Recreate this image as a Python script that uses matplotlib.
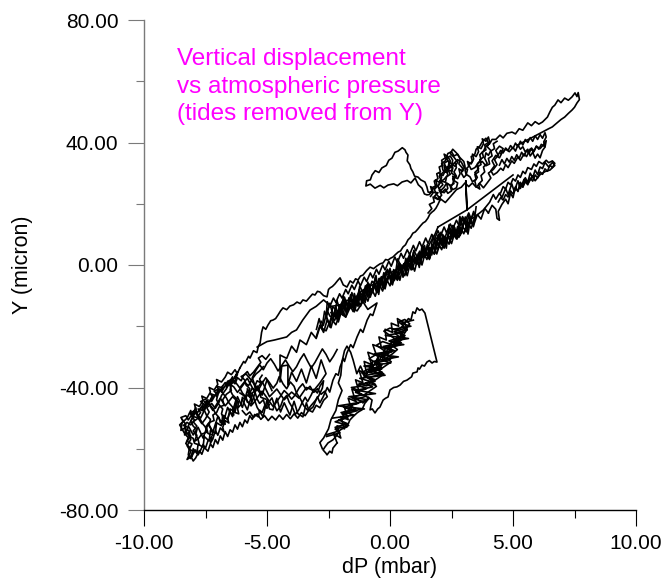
import matplotlib
matplotlib.use("Agg")
import matplotlib.pyplot as plt
from matplotlib.ticker import MultipleLocator, FormatStrFormatter

plt.rcParams['font.family'] = ['Liberation Sans', 'DejaVu Sans']

# dP (mbar), Y (micron) pairs, one list per stretch of the record
long_strand = [(-6.10, -33.6), (-5.95, -31.5), (-5.89, -32.0), (-5.75, -29.8), (-5.69, -30.4), (-5.55, -28.0),
               (-5.41, -28.6), (-5.35, -26.5), (-5.28, -25.5), (-5.22, -22.0), (-5.16, -20.2), (-5.05, -21.0),
               (-4.96, -19.6), (-4.85, -18.2), (-4.76, -18.0), (-4.65, -17.5), (-4.55, -16.3), (-4.45, -15.0),
               (-4.35, -14.0), (-4.20, -14.6), (-4.07, -13.4), (-3.92, -13.0), (-3.78, -12.1), (-3.65, -12.6),
               (-3.54, -11.4), (-3.40, -11.8), (-3.25, -10.4), (-3.15, -9.5), (-3.05, -9.8), (-2.95, -8.6),
               (-2.85, -8.8), (-2.70, -10.0), (-2.56, -10.4), (-2.50, -8.0), (-2.44, -7.5), (-2.34, -7.0),
               (-2.24, -6.2), (-2.12, -5.0), (-2.03, -4.2), (-1.90, -6.5), (-1.75, -7.2), (-1.62, -5.2),
               (-1.50, -5.9), (-1.40, -4.5), (-1.30, -4.9), (-1.20, -3.6), (-1.10, -3.3), (-0.95, -1.8),
               (-0.81, -0.7), (-0.67, -1.2), (-0.53, -0.3), (-0.40, 0.4), (-0.28, 0.7), (-0.18, 1.8),
               (-0.08, 1.6), (0.02, 2.2), (0.12, 2.6), (0.22, 3.4), (0.33, 4.2), (0.43, 4.6), (0.53, 5.9),
               (0.63, 6.6), (0.73, 8.2), (0.83, 9.0), (0.93, 10.4), (1.03, 10.8), (1.14, 11.8), (1.24, 12.8),
               (1.34, 13.7), (1.44, 14.2), (1.54, 15.3), (1.62, 16.6), (1.71, 17.3), (1.79, 17.8), (1.87, 18.6),
               (1.95, 19.8), (2.03, 21.2)]

top_strand = [(2.03, 21.2), (1.80, 22.4), (1.95, 23.6), (1.55, 23.8), (1.50, 25.5), (1.42, 27.1), (1.25, 27.8),
              (1.14, 28.7), (1.00, 29.0), (0.93, 30.4), (0.85, 31.5), (0.81, 32.7), (0.70, 34.0), (0.73, 35.9),
              (0.65, 36.8), (0.61, 37.6), (0.50, 38.3), (0.33, 37.2), (0.20, 36.8), (0.08, 34.9), (-0.05, 34.2),
              (-0.15, 32.5), (-0.33, 31.7), (-0.45, 30.2), (-0.60, 30.8), (-0.73, 29.4), (-0.80, 27.8),
              (-0.95, 27.5), (-0.98, 25.8), (-0.80, 26.4), (-0.61, 25.1), (-0.40, 26.0), (-0.25, 25.2),
              (-0.08, 26.1), (0.15, 26.5), (0.30, 25.9), (0.49, 27.1), (0.70, 27.6), (0.85, 26.8), (1.02, 28.4),
              (1.15, 26.2), (1.30, 25.1), (1.40, 23.2), (1.50, 22.9),
              (1.60, 23.0), (1.70, 24.2), (1.65, 25.6), (1.80, 24.8), (1.90, 26.4), (1.85, 27.8), (2.00, 27.0),
              (2.10, 28.6), (2.00, 30.0), (2.15, 29.2), (2.25, 30.8), (2.20, 32.4), (2.35, 31.6), (2.40, 33.4),
              (2.30, 34.8), (2.45, 35.6), (2.55, 34.2), (2.50, 32.6), (2.65, 33.4), (2.70, 31.8), (2.60, 30.4),
              (2.70, 29.0), (2.55, 28.2), (2.60, 26.6), (2.45, 25.8), (2.50, 24.2), (2.35, 23.4), (2.25, 24.8),
              (2.10, 23.6), (2.00, 25.0), (2.15, 26.2), (2.05, 27.6), (2.25, 27.0), (2.30, 28.8), (2.45, 29.6),
              (2.35, 31.2), (2.50, 30.6), (2.55, 32.0), (2.40, 32.6), (2.30, 30.2), (2.15, 31.0), (2.10, 33.2),
              (2.25, 34.0), (2.35, 36.4), (2.50, 37.0), (2.60, 35.6), (2.75, 36.2), (2.85, 34.6), (2.80, 33.0),
              (2.95, 31.6), (2.90, 30.0), (3.00, 28.6),
              (3.10, 29.4), (3.05, 31.0), (3.20, 32.2), (3.15, 33.8), (3.30, 33.0), (3.40, 34.6), (3.35, 36.2),
              (3.50, 35.4), (3.60, 37.0), (3.55, 38.6), (3.70, 38.0), (3.80, 39.6), (3.75, 41.2), (3.90, 40.4),
              (4.00, 41.8), (4.05, 40.2), (3.95, 38.6), (4.10, 37.4), (4.00, 35.8), (3.90, 36.6), (3.85, 34.8),
              (3.95, 33.2), (3.80, 32.0), (3.85, 30.4), (3.70, 29.2), (3.75, 27.6), (3.60, 26.4), (3.65, 24.8),
              (3.50, 25.6), (3.45, 27.4), (3.55, 28.6), (3.45, 30.2), (3.60, 31.4), (3.55, 33.0), (3.70, 34.4),
              (3.65, 36.0), (3.80, 37.2), (3.90, 38.8), (4.05, 39.6), (4.15, 41.0),
              (4.30, 41.0), (4.47, 42.4), (4.60, 41.5), (4.75, 43.0), (4.96, 43.4), (5.10, 42.8), (5.25, 44.5),
              (5.40, 44.0), (5.60, 46.4), (5.75, 45.5), (5.90, 46.8), (6.05, 46.0), (6.20, 46.7), (6.30, 47.5),
              (6.40, 48.3), (6.50, 50.0), (6.60, 51.5), (6.70, 52.2), (6.83, 53.9), (6.95, 53.0), (7.10, 54.5),
              (7.25, 53.8), (7.40, 54.9), (7.52, 56.2), (7.60, 55.0), (7.65, 56.3), (7.70, 54.0), (7.60, 52.9),
              (7.50, 51.5), (7.40, 50.6), (7.25, 49.5), (7.10, 48.3), (6.95, 47.5), (6.83, 46.7), (6.70, 45.8),
              (6.60, 45.1), (6.45, 44.5),
              (5.20, 39.2), (5.30, 37.8), (5.40, 38.6), (5.50, 36.9), (5.60, 37.8), (5.70, 35.6), (5.80, 36.8),
              (5.90, 34.9), (6.00, 36.2), (6.10, 35.0), (6.20, 37.4), (6.30, 38.5), (6.35, 40.6), (6.25, 39.4),
              (6.10, 38.0), (5.95, 38.8), (5.85, 37.0), (5.70, 37.9), (5.55, 35.4), (5.45, 36.3), (5.30, 34.2),
              (5.20, 35.3), (5.05, 33.2), (4.95, 34.0), (4.80, 31.8), (4.70, 32.8), (4.60, 30.9), (4.50, 31.6),
              (4.35, 30.2), (4.20, 29.4), (4.10, 30.8), (4.25, 32.4), (4.15, 34.0), (4.30, 35.8), (4.45, 35.0),
              (4.55, 36.6), (4.70, 37.8), (4.85, 37.0), (5.00, 38.4), (5.10, 37.2), (5.20, 39.2)]

upper_walk = [(1.65, 22.4), (1.75, 23.6), (1.70, 25.2), (1.85, 25.8), (1.80, 27.4), (1.95, 28.2), (1.90, 29.8),
              (2.05, 30.4), (2.00, 32.0), (2.15, 32.6), (2.10, 34.2), (2.25, 35.0), (2.20, 36.2), (2.35, 35.4),
              (2.45, 34.0), (2.40, 32.4), (2.55, 31.6), (2.50, 30.0), (2.65, 29.2), (2.60, 27.6), (2.75, 26.8),
              (2.70, 25.2), (2.55, 24.6), (2.45, 26.0), (2.30, 26.8), (2.20, 25.4), (2.05, 24.2), (1.95, 25.6),
              (2.05, 27.2), (2.20, 28.0), (2.35, 29.4), (2.30, 31.0), (2.45, 31.8), (2.60, 33.2), (2.75, 34.4),
              (2.90, 33.6), (3.00, 32.0), (3.15, 31.2), (3.10, 29.6), (3.25, 28.8), (3.35, 27.2), (3.50, 28.0),
              (3.45, 29.6), (3.60, 30.4), (3.55, 32.0), (3.70, 32.8), (3.65, 34.4), (3.80, 35.2), (3.75, 36.8),
              (3.90, 37.6), (3.85, 39.2), (4.00, 40.0), (3.90, 41.4), (3.75, 40.2), (3.65, 38.8), (3.50, 37.8),
              (3.45, 36.2), (3.30, 35.4), (3.35, 33.8), (3.20, 32.8), (3.30, 31.2), (3.45, 31.8), (3.60, 33.4),
              (3.75, 33.8), (3.90, 32.4), (4.05, 33.0), (4.00, 34.8), (4.15, 35.6), (4.10, 37.2), (4.25, 38.0),
              (4.20, 39.6), (4.35, 40.4)]

upper_walk2 = [(1.55, 17.0), (1.70, 18.4), (1.60, 19.8), (1.80, 20.6), (1.75, 22.2), (1.95, 21.4), (2.10, 22.8),
               (2.00, 24.4), (2.20, 23.6), (2.35, 25.0), (2.30, 26.6), (2.50, 25.8), (2.60, 27.4), (2.55, 29.0),
               (2.75, 28.2), (2.85, 29.8), (2.80, 31.4), (2.95, 30.6), (3.05, 32.2), (3.00, 33.8), (2.85, 35.0),
               (2.70, 36.6), (2.55, 37.8), (2.45, 36.4), (2.60, 35.2), (2.75, 33.6), (2.65, 32.2), (2.50, 33.0),
               (2.35, 34.0), (2.20, 33.2), (2.30, 31.6), (2.15, 30.2), (2.00, 29.0), (2.10, 27.4), (1.95, 26.0),
               (1.80, 24.6), (1.90, 23.0), (2.05, 21.6), (2.25, 20.4), (2.40, 21.8), (2.55, 23.2), (2.70, 24.6),
               (2.90, 25.4), (3.05, 26.8), (3.20, 25.6), (3.35, 26.8), (3.50, 25.4), (3.65, 26.6), (3.80, 25.2),
               (3.95, 26.8), (4.10, 28.4), (4.00, 30.0), (4.20, 31.2), (4.35, 32.8), (4.25, 34.4), (4.40, 35.8),
               (4.30, 37.4), (4.45, 38.8), (4.60, 38.0), (4.50, 36.4)]

upper_right_walk = [(4.40, 36.0), (4.50, 37.4), (4.60, 36.6), (4.70, 38.2), (4.80, 37.4), (4.90, 39.0), (5.00, 38.0),
                    (5.10, 39.8), (5.20, 38.6), (5.30, 40.4), (5.40, 39.2), (5.50, 41.0), (5.60, 40.0), (5.70, 41.6),
                    (5.80, 40.4), (5.90, 42.2), (6.00, 41.0), (6.10, 42.6), (6.20, 41.4), (6.30, 43.2), (6.35, 41.8),
                    (6.25, 40.2), (6.30, 38.6), (6.15, 39.4), (6.05, 37.8), (5.95, 38.8), (5.85, 37.2), (5.75, 38.2),
                    (5.65, 36.4), (5.55, 37.4), (5.45, 35.6), (5.35, 36.8), (5.25, 34.8), (5.15, 36.0), (5.05, 34.2),
                    (4.95, 35.4), (4.85, 33.6), (4.75, 34.8), (4.65, 33.0), (4.55, 34.4), (4.45, 32.6)]

jump_strand = [(1.95, 12.4), (3.13, 18.0), (3.08, 27.5), (3.13, 18.0), (5.00, 29.4)]

mid_band = [(-3.00, -23.5), (-2.85, -19.7), (-2.70, -22.0), (-2.55, -17.8), (-2.40, -20.5), (-2.25, -16.0),
            (-2.10, -18.6), (-1.95, -14.5), (-1.80, -17.0), (-1.65, -12.8), (-1.50, -15.2), (-1.35, -11.0),
            (-1.20, -13.5), (-1.05, -9.5), (-0.90, -11.8), (-0.75, -7.8), (-0.60, -10.2), (-0.45, -6.2),
            (-0.30, -8.5), (-0.15, -4.5), (0.00, -6.8), (0.15, -2.8), (0.30, -5.0), (0.45, -1.2), (0.60, -3.5),
            (0.75, 0.5), (0.90, -1.5), (1.05, 2.2), (1.20, 0.0), (1.35, 4.0), (1.50, 1.8), (1.65, 5.6),
            (1.80, 3.5), (1.95, 7.3), (2.10, 5.0), (2.25, 9.0), (2.40, 6.8), (2.55, 10.6), (2.70, 8.5),
            (2.85, 12.3), (3.00, 10.2), (3.15, 14.0), (3.30, 12.0), (3.45, 15.8),
            (3.40, 17.5), (3.30, 15.0), (3.20, 17.0), (3.05, 14.2), (2.95, 15.8), (2.80, 13.0), (2.70, 14.6),
            (2.55, 11.8), (2.45, 13.4), (2.30, 10.5), (2.20, 12.4), (2.05, 9.4), (1.95, 11.2), (1.80, 8.3),
            (1.70, 10.0), (1.55, 7.0), (1.45, 8.8), (1.30, 5.8), (1.20, 7.6), (1.05, 4.6), (0.95, 6.4),
            (0.80, 3.4), (0.70, 5.0), (0.55, 2.2), (0.45, 3.8), (0.30, 0.8), (0.20, 2.6), (0.05, -0.4),
            (-0.05, 1.2), (-0.20, -1.6), (-0.30, 0.0), (-0.45, -3.0), (-0.55, -1.4), (-0.70, -4.2),
            (-0.80, -2.6), (-0.95, -5.4), (-1.05, -4.0), (-1.20, -6.8), (-1.30, -5.2), (-1.45, -8.0),
            (-1.55, -6.6), (-1.70, -9.4), (-1.80, -8.0), (-1.95, -10.8), (-2.05, -9.4), (-2.20, -12.2),
            (-2.30, -10.8), (-2.45, -13.6), (-2.55, -12.0),
            (-2.60, -17.5), (-2.45, -12.5), (-2.30, -16.8), (-2.15, -11.8), (-2.00, -15.5), (-1.85, -10.5),
            (-1.70, -14.5), (-1.55, -9.0), (-1.40, -13.0), (-1.25, -8.0), (-1.10, -12.0), (-0.95, -6.5),
            (-0.80, -10.5), (-0.65, -5.5), (-0.50, -9.0), (-0.35, -4.0), (-0.20, -7.8), (-0.05, -2.8),
            (0.10, -6.5), (0.25, -1.5), (0.40, -5.0), (0.55, 0.0), (0.70, -3.5), (0.85, 1.5), (1.00, -2.0),
            (1.15, 3.0), (1.30, 0.0), (1.45, 4.5), (1.60, 1.8), (1.75, 6.0), (1.90, 3.6), (2.05, 7.5),
            (2.20, 5.5), (2.35, 9.5), (2.50, 7.0), (2.65, 11.0), (2.80, 9.0), (2.95, 12.5), (3.10, 10.8),
            (3.25, 14.5), (3.40, 13.0), (3.55, 16.5), (3.70, 15.0), (3.85, 18.5), (4.00, 17.0)]

mid_walk = [(-2.40, -15.5), (-2.30, -17.0), (-2.20, -13.6), (-2.10, -16.6), (-2.00, -14.1), (-1.90, -16.4),
            (-1.80, -11.8), (-1.70, -13.1), (-1.60, -9.7), (-1.50, -13.6), (-1.40, -10.4), (-1.30, -13.5),
            (-1.20, -9.1), (-1.10, -10.2), (-1.00, -6.8), (-0.90, -10.5), (-0.80, -7.7), (-0.70, -8.6),
            (-0.60, -4.0), (-0.50, -6.7), (-0.40, -4.3), (-0.30, -7.4), (-0.20, -4.0), (-0.10, -5.1),
            (0.00, -1.1), (0.10, -4.6), (0.20, -2.2), (0.30, -4.5), (0.40, 0.5), (0.50, -1.4), (0.60, 0.8),
            (0.70, -1.7), (0.80, 3.5), (0.90, 0.1), (1.00, 2.6), (1.10, 0.2), (1.20, 4.5), (1.30, 2.9),
            (1.40, 6.4), (1.50, 3.0), (1.60, 5.7), (1.70, 3.3), (1.80, 8.0), (1.90, 6.8), (2.00, 9.9),
            (2.10, 6.5), (2.20, 9.4), (2.30, 7.0), (2.40, 10.9), (2.50, 9.5), (2.60, 12.8), (2.70, 10.0),
            (2.80, 12.5), (2.90, 10.3), (3.00, 14.6), (3.10, 13.0), (3.20, 16.1), (3.30, 13.5),
            (3.25, 15.2), (3.15, 11.8), (3.05, 15.1), (2.95, 12.3), (2.85, 9.6), (2.75, 12.6), (2.65, 9.5),
            (2.55, 12.9), (2.45, 9.0), (2.35, 9.6), (2.25, 6.5), (2.15, 9.9), (2.05, 7.0), (1.95, 9.8),
            (1.85, 4.9), (1.75, 6.7), (1.65, 3.4), (1.55, 6.2), (1.45, 4.3), (1.35, 5.9), (1.25, 0.8),
            (1.15, 3.8), (1.05, 1.1), (0.95, 4.1), (0.85, 0.6), (0.75, 2.0), (0.65, -1.9), (0.55, 0.3),
            (0.45, -2.6), (0.35, 0.6), (0.25, -2.5), (0.15, -1.5), (0.05, -5.6), (-0.05, -3.2), (-0.15, -5.7),
            (-0.25, -2.5), (-0.35, -6.2), (-0.45, -4.4), (-0.55, -8.7), (-0.65, -6.7), (-0.75, -9.4),
            (-0.85, -6.2), (-0.95, -9.3), (-1.05, -8.1), (-1.15, -12.2), (-1.25, -9.6), (-1.35, -12.1),
            (-1.45, -9.3), (-1.55, -13.8), (-1.65, -12.0), (-1.75, -15.1), (-1.85, -12.3), (-1.95, -15.0),
            (-2.05, -13.0), (-2.15, -17.5), (-2.25, -15.5)]

mid_walk2 = [(-2.80, -18.4), (-2.71, -19.7), (-2.62, -17.0), (-2.53, -15.3), (-2.44, -16.7), (-2.35, -17.2),
             (-2.26, -18.2), (-2.17, -16.5), (-2.08, -14.5), (-1.99, -12.8), (-1.90, -11.4), (-1.81, -12.3),
             (-1.72, -13.3), (-1.63, -14.2), (-1.54, -12.6), (-1.45, -10.7), (-1.36, -11.2), (-1.27, -12.5),
             (-1.18, -12.8), (-1.09, -10.9), (-1.00, -8.9), (-0.91, -7.2), (-0.82, -7.4), (-0.73, -5.3),
             (-0.64, -6.0), (-0.55, -7.0), (-0.46, -7.9), (-0.37, -6.4), (-0.28, -4.3), (-0.19, -2.6),
             (-0.10, -1.4), (-0.01, -3.3), (0.08, -4.3), (0.17, -5.1), (0.26, -3.7), (0.35, -1.7), (0.44, 0.0),
             (0.53, -0.2), (0.62, -0.8), (0.71, 1.9), (0.80, 3.3), (0.89, 2.3), (0.98, 1.5), (1.07, 0.3),
             (1.16, 1.9), (1.25, 4.0), (1.34, 5.7), (1.43, 4.1), (1.52, 3.4), (1.61, 2.8), (1.70, 5.1),
             (1.79, 7.1), (1.88, 8.8), (1.97, 8.7), (2.06, 7.6), (2.15, 7.0), (2.24, 9.1), (2.33, 11.0),
             (2.42, 12.3), (2.51, 10.8), (2.60, 9.7), (2.69, 9.1), (2.78, 11.2), (2.87, 13.3), (2.96, 15.1),
             (3.05, 13.5), (3.14, 12.0), (3.23, 13.4), (3.32, 15.5), (3.41, 16.9)]

mid_walk3 = [(3.50, 19.0), (3.39, 12.5), (3.28, 15.3), (3.17, 10.1), (3.06, 15.7), (2.95, 12.1), (2.84, 15.9),
             (2.73, 8.5), (2.62, 12.3), (2.51, 8.5), (2.40, 13.1), (2.29, 5.5), (2.18, 8.7), (2.07, 10.7),
             (1.96, 5.1), (1.85, 6.3), (1.74, 9.7), (1.63, 2.3), (1.52, 6.7), (1.41, 3.1), (1.30, 6.3),
             (1.19, -0.8), (1.08, 3.0), (0.97, 4.8), (0.86, -1.6), (0.75, 0.4), (0.64, 2.2), (0.53, -4.0),
             (0.42, 0.0), (0.31, 2.0), (0.20, -4.0), (0.09, -6.0), (-0.02, -3.2), (-0.13, -1.8), (-0.24, -7.2),
             (-0.35, -3.8), (-0.46, -9.6), (-0.57, -3.4), (-0.68, -8.0), (-0.79, -9.8), (-0.90, -5.6),
             (-1.01, -12.3), (-1.12, -8.7), (-1.23, -6.9), (-1.34, -12.3), (-1.45, -15.3), (-1.56, -11.3),
             (-1.67, -10.7), (-1.78, -15.9), (-1.89, -10.3), (-2.00, -14.9), (-2.11, -17.9), (-2.22, -14.3),
             (-2.33, -13.7), (-2.44, -20.3), (-2.55, -17.5), (-2.66, -15.1), (-2.77, -20.9), (-2.88, -17.5),
             (-2.99, -21.0)]

mid_upper = [(-5.40, -26.8), (-5.00, -25.0), (-4.70, -24.5), (-4.20, -23.5), (-4.00, -22.0), (-3.80, -21.2),
             (-3.55, -18.0), (-3.25, -14.7), (-3.00, -13.5), (-2.70, -11.4), (-2.40, -13.5), (-2.03, -13.1),
             (-1.75, -11.5), (-1.50, -12.1), (-1.30, -9.5), (-1.10, -8.2), (-0.80, -6.8), (-0.53, -5.9),
             (-0.25, -3.5), (0.00, -2.6), (0.35, -1.2), (0.69, -0.7), (1.00, 1.5), (1.34, 2.6), (1.50, 5.0),
             (1.63, 7.2), (1.80, 9.5), (1.95, 12.4)]

right_arm = [(4.00, 17.0), (4.15, 19.5), (4.30, 18.2), (4.35, 15.2), (4.45, 14.6), (4.40, 17.5), (4.55, 19.8),
             (4.70, 21.5), (4.80, 20.0), (4.90, 23.5), (5.00, 22.0), (5.10, 25.5), (5.20, 24.0), (5.30, 27.0),
             (5.40, 25.5), (5.50, 28.5), (5.60, 27.0), (5.70, 30.0), (5.80, 28.5), (5.90, 31.0), (6.00, 29.5),
             (6.10, 32.0), (6.20, 31.5), (6.30, 33.5), (6.45, 32.0), (6.60, 33.5), (6.70, 32.5), (6.50, 31.0),
             (6.30, 30.5), (6.10, 29.5), (5.90, 27.5), (5.80, 29.0), (5.60, 26.5), (5.45, 28.0), (5.30, 25.0),
             (5.20, 27.5), (5.05, 24.0), (4.95, 26.5), (4.80, 23.0), (4.70, 25.0), (4.55, 22.0), (4.45, 23.5),
             (4.30, 21.5), (4.20, 23.0), (4.05, 20.5), (3.80, 18.0), (3.54, 16.3), (3.25, 14.7)]

right_arm_walk = [(4.40, 20.6), (4.50, 22.0), (4.60, 21.2), (4.70, 23.0), (4.80, 22.2), (4.90, 24.2), (5.00, 23.2),
                  (5.10, 25.0), (5.20, 24.2), (5.30, 26.2), (5.40, 25.4), (5.50, 27.2), (5.60, 26.2), (5.70, 28.4),
                  (5.80, 27.4), (5.90, 29.4), (6.00, 28.4), (6.10, 30.4), (6.20, 29.6), (6.30, 31.4), (6.40, 30.6),
                  (6.50, 32.6), (6.60, 31.8), (6.70, 33.2), (6.60, 34.0), (6.45, 33.4), (6.35, 34.2), (6.20, 33.0),
                  (6.05, 33.8), (5.95, 32.2), (5.85, 33.0), (5.75, 31.2), (5.60, 31.8), (5.50, 29.8), (5.40, 30.6),
                  (5.30, 28.6), (5.20, 29.4), (5.10, 27.4), (5.00, 28.2), (4.90, 26.2), (4.80, 27.0), (4.70, 24.8),
                  (4.60, 25.6), (4.50, 23.6)]

low_left = [(-6.10, -33.6), (-6.30, -37.0), (-6.20, -35.0), (-6.45, -38.5), (-6.40, -36.5), (-6.65, -40.0),
            (-6.60, -38.0), (-6.85, -41.5), (-6.80, -39.5), (-7.05, -43.0), (-7.00, -41.0), (-7.25, -44.5),
            (-7.20, -42.5), (-7.45, -46.0), (-7.40, -44.0), (-7.65, -47.5), (-7.60, -45.5), (-7.85, -48.5),
            (-7.90, -46.5), (-8.05, -49.5), (-8.10, -47.5), (-8.25, -50.0), (-8.45, -51.5), (-8.50, -54.0),
            (-8.30, -53.0), (-8.35, -55.5), (-8.15, -54.5), (-8.10, -57.0), (-8.25, -59.0), (-8.10, -61.0),
            (-8.25, -63.5), (-8.05, -62.5), (-8.00, -60.0), (-7.85, -61.5), (-7.80, -58.5), (-7.60, -59.5),
            (-7.55, -56.0), (-7.35, -57.5), (-7.30, -54.0), (-7.10, -55.0), (-7.05, -51.5), (-6.85, -52.5),
            (-6.80, -49.0), (-6.60, -50.5), (-6.50, -47.0), (-6.30, -48.0), (-6.20, -44.5),
            (-6.40, -43.0), (-6.70, -46.0), (-6.90, -43.5), (-7.20, -47.5), (-7.40, -45.0), (-7.70, -50.0),
            (-7.90, -48.0), (-8.20, -52.5), (-8.00, -55.5), (-7.80, -53.0), (-7.60, -56.5), (-7.40, -52.0),
            (-7.20, -54.5), (-7.00, -49.5), (-6.80, -52.0), (-6.60, -46.5), (-6.40, -49.5), (-6.20, -43.0),
            (-6.00, -46.5), (-5.80, -41.0), (-5.60, -44.5), (-5.40, -39.5), (-5.20, -42.5), (-5.00, -37.5),
            (-4.80, -41.0)]

low_left_walk = [(-5.20, -36.0), (-5.30, -37.2), (-5.25, -38.5), (-5.40, -37.8), (-5.50, -39.6), (-5.45, -41.0),
                 (-5.60, -40.2), (-5.70, -41.8), (-5.65, -43.5), (-5.80, -42.4), (-5.90, -44.0), (-6.00, -43.2),
                 (-6.05, -45.5), (-6.20, -46.8), (-6.15, -44.6), (-6.30, -45.2), (-6.40, -47.5), (-6.35, -49.0),
                 (-6.50, -48.1), (-6.60, -50.2), (-6.55, -51.6), (-6.70, -50.8), (-6.80, -53.0), (-6.75, -54.5),
                 (-6.90, -53.2), (-7.00, -55.6), (-7.10, -54.0), (-7.20, -56.8), (-7.30, -58.2), (-7.25, -56.0),
                 (-7.40, -57.4), (-7.50, -59.8), (-7.60, -58.6), (-7.70, -60.5), (-7.80, -62.0), (-7.90, -60.4),
                 (-8.00, -61.6), (-8.10, -63.2), (-8.20, -62.0), (-8.15, -59.5), (-8.30, -58.3), (-8.20, -56.4),
                 (-8.35, -55.0), (-8.45, -53.6), (-8.55, -52.2), (-8.40, -51.0), (-8.50, -49.8), (-8.30, -49.2),
                 (-8.20, -50.6), (-8.05, -48.8), (-7.90, -47.0), (-7.95, -45.4), (-7.75, -46.2), (-7.60, -44.3),
                 (-7.65, -42.8), (-7.45, -43.6), (-7.30, -41.5), (-7.35, -40.0), (-7.15, -40.8), (-7.00, -39.0),
                 (-7.05, -37.4), (-6.85, -38.2), (-6.70, -36.6), (-6.60, -35.0), (-6.45, -35.8), (-6.30, -34.2),
                 (-6.20, -35.6), (-6.30, -37.8), (-6.50, -39.2), (-6.45, -41.0), (-6.65, -42.2), (-6.80, -44.0),
                 (-6.75, -45.8), (-6.95, -46.4), (-7.05, -48.2), (-7.20, -49.0), (-7.15, -50.8), (-7.35, -51.4),
                 (-7.50, -53.0), (-7.45, -54.6), (-7.65, -55.2), (-7.80, -56.8), (-7.95, -57.6), (-7.85, -55.6),
                 (-8.00, -54.2), (-7.85, -52.6), (-8.00, -51.2), (-7.80, -50.0), (-7.65, -51.8), (-7.50, -50.2),
                 (-7.35, -48.0), (-7.45, -46.6), (-7.25, -45.2), (-7.10, -46.8), (-6.95, -44.8), (-6.85, -42.6),
                 (-6.65, -40.4), (-6.55, -38.6), (-6.35, -39.8), (-6.20, -41.6), (-6.05, -40.0), (-5.90, -38.4),
                 (-5.75, -39.4), (-5.60, -37.2), (-5.45, -35.6), (-5.30, -34.6), (-5.15, -33.2)]

low_left_walk2 = [(-4.90, -45.5), (-5.00, -46.8), (-5.10, -46.0), (-5.20, -48.2), (-5.30, -47.4), (-5.35, -49.6),
                  (-5.50, -48.8), (-5.60, -50.4), (-5.70, -49.2), (-5.80, -51.6), (-5.90, -50.6), (-6.00, -52.8),
                  (-6.10, -51.4), (-6.20, -53.6), (-6.30, -52.2), (-6.40, -54.6), (-6.50, -53.8), (-6.60, -56.0),
                  (-6.70, -54.4), (-6.80, -57.2), (-6.90, -55.8), (-7.00, -58.4), (-7.10, -57.0), (-7.20, -59.6),
                  (-7.30, -58.4), (-7.40, -60.8), (-7.55, -59.6), (-7.65, -61.8), (-7.75, -60.6), (-7.90, -63.0),
                  (-8.00, -64.0), (-8.10, -62.4), (-8.00, -60.8), (-8.15, -60.2), (-8.05, -58.4), (-8.25, -57.6),
                  (-8.10, -55.8), (-8.30, -54.8), (-8.20, -53.0), (-8.40, -52.4), (-8.25, -51.4), (-8.10, -52.2),
                  (-7.95, -50.6), (-8.05, -49.4), (-7.85, -49.8), (-7.70, -48.2), (-7.80, -47.0), (-7.60, -47.6),
                  (-7.45, -45.8), (-7.55, -44.6), (-7.35, -45.0), (-7.20, -43.2), (-7.30, -42.0), (-7.10, -42.6),
                  (-6.95, -40.8), (-7.05, -39.6), (-6.85, -40.0), (-6.70, -38.4), (-6.55, -39.4), (-6.45, -37.6),
                  (-6.30, -38.8), (-6.20, -36.8), (-6.05, -37.8), (-5.95, -36.0), (-5.80, -34.8), (-5.70, -36.2),
                  (-5.55, -35.0), (-5.40, -33.4), (-5.25, -31.8), (-5.35, -30.4), (-5.20, -29.6), (-5.05, -30.8),
                  (-4.90, -29.2)]

low_left_sweeps = [(-8.45, -50.5), (-8.30, -52.0), (-8.35, -53.4), (-8.15, -54.2), (-8.20, -55.8), (-8.00, -56.6),
                   (-7.95, -58.2), (-7.75, -58.8), (-7.80, -57.0), (-7.90, -55.4), (-7.85, -53.8), (-8.00, -52.6),
                   (-8.10, -51.0), (-8.00, -49.4), (-8.15, -48.4), (-7.95, -47.6), (-7.85, -49.0), (-7.70, -50.6),
                   (-7.60, -52.0), (-7.45, -53.4), (-7.40, -55.0), (-7.20, -55.6), (-7.25, -53.8), (-7.35, -52.2),
                   (-7.30, -50.4), (-7.45, -49.2), (-7.55, -47.4), (-7.50, -45.8), (-7.70, -44.6), (-7.50, -43.8),
                   (-7.35, -45.4), (-7.20, -46.8), (-7.10, -48.4), (-6.95, -49.8), (-6.90, -51.4), (-6.70, -52.0),
                   (-6.75, -50.2), (-6.85, -48.6), (-6.80, -47.0), (-6.95, -45.6), (-7.05, -44.0), (-7.00, -42.4),
                   (-7.15, -41.2), (-6.95, -40.4), (-6.80, -41.8), (-6.65, -43.4), (-6.55, -45.0), (-6.40, -46.4),
                   (-6.35, -48.0), (-6.15, -48.6), (-6.20, -46.8), (-6.30, -45.2), (-6.25, -43.6), (-6.40, -42.4),
                   (-6.50, -40.8), (-6.45, -39.2), (-6.60, -38.0), (-6.40, -37.2), (-6.25, -38.6), (-6.10, -40.2),
                   (-6.00, -41.8), (-5.85, -43.2), (-5.80, -44.8), (-5.60, -45.4), (-5.65, -43.6), (-5.75, -42.0),
                   (-5.70, -40.4), (-5.85, -39.2), (-5.90, -37.6), (-6.05, -36.4), (-5.85, -35.6), (-5.70, -37.0),
                   (-5.55, -38.6), (-5.45, -40.2), (-5.30, -41.6), (-5.25, -43.2), (-5.05, -43.8)]

low_mid = [(-6.00, -44.0), (-5.80, -47.3), (-5.60, -42.0), (-5.40, -46.5), (-5.16, -49.6), (-5.00, -44.0),
           (-4.90, -47.0), (-4.76, -47.3), (-4.60, -43.5), (-4.45, -48.0), (-4.30, -45.0), (-4.07, -49.0),
           (-3.90, -44.5), (-3.75, -48.5), (-3.54, -49.6), (-3.40, -45.0), (-3.30, -47.5), (-3.13, -46.4),
           (-2.95, -43.0), (-2.85, -45.0), (-2.72, -43.1), (-2.55, -40.0), (-2.45, -41.5), (-2.32, -37.6),
           (-2.20, -35.5), (-2.10, -36.0), (-2.03, -33.3), (-1.90, -30.5), (-1.85, -31.5), (-1.75, -28.7),
           (-1.60, -26.0), (-1.50, -27.0), (-1.34, -23.5), (-1.20, -21.0), (-1.10, -22.0), (-0.93, -18.0),
           (-0.80, -16.0), (-0.70, -16.5), (-0.53, -12.4),
           (-0.90, -14.5), (-1.10, -12.0), (-1.34, -15.0), (-1.60, -13.5), (-1.80, -17.0), (-2.03, -15.7),
           (-2.20, -19.5), (-2.40, -17.5), (-2.60, -21.5), (-2.85, -20.2), (-3.00, -24.0), (-3.20, -22.0),
           (-3.40, -26.0), (-3.66, -24.5), (-3.80, -28.5), (-4.00, -26.5), (-4.20, -30.5), (-4.47, -29.4),
           (-4.47, -38.2), (-4.40, -33.0), (-4.15, -32.7), (-4.15, -39.2), (-4.00, -35.0), (-3.80, -38.0),
           (-3.60, -34.0), (-3.40, -38.5), (-3.20, -33.0), (-3.00, -37.0), (-2.80, -31.0), (-2.60, -35.5),
           (-2.85, -38.5), (-3.10, -41.0), (-3.40, -40.0), (-3.70, -43.5), (-4.00, -41.5), (-4.30, -44.0),
           (-4.60, -40.5), (-4.90, -43.0), (-5.20, -38.0), (-5.50, -41.5), (-5.80, -37.0), (-6.10, -40.0)]

low_mid_walk = [(-5.80, -40.5), (-5.65, -42.0), (-5.50, -41.2), (-5.40, -43.8), (-5.30, -45.2), (-5.15, -44.0),
                (-5.05, -46.6), (-4.95, -45.0), (-4.80, -43.4), (-4.70, -45.8), (-4.60, -47.6), (-4.45, -46.2),
                (-4.35, -44.0), (-4.20, -42.6), (-4.10, -44.8), (-3.95, -46.8), (-3.85, -48.8), (-3.70, -47.2),
                (-3.60, -45.4), (-3.45, -43.2), (-3.35, -44.6), (-3.20, -42.4), (-3.10, -40.6), (-2.95, -41.8),
                (-2.85, -39.6), (-2.70, -37.8), (-2.75, -40.2), (-2.90, -42.8), (-3.05, -44.4), (-3.20, -45.8),
                (-3.35, -47.4), (-3.50, -46.0), (-3.65, -43.6), (-3.80, -41.8), (-3.90, -39.6), (-4.05, -38.2),
                (-4.20, -40.4), (-4.35, -38.8), (-4.50, -36.4), (-4.60, -38.6), (-4.75, -40.2), (-4.90, -38.4),
                (-5.05, -36.8), (-5.20, -38.6), (-5.35, -40.8), (-5.50, -39.2), (-5.60, -36.8), (-5.45, -34.4),
                (-5.30, -32.6), (-5.15, -34.2), (-5.00, -32.0), (-4.85, -30.6), (-4.70, -32.4), (-4.55, -34.6),
                (-4.40, -32.8), (-4.25, -31.0), (-4.10, -33.0), (-3.95, -34.8), (-3.80, -33.2), (-3.65, -30.8),
                (-3.50, -29.0), (-3.35, -31.4), (-3.20, -33.6), (-3.05, -31.8), (-2.90, -29.6), (-2.75, -27.4),
                (-2.60, -29.2), (-2.45, -31.6), (-2.30, -29.8), (-2.15, -27.6)]

low_mid_walk2 = [(-6.00, -47.6), (-5.85, -49.0), (-5.70, -48.0), (-5.55, -49.8), (-5.40, -48.6), (-5.25, -50.4),
                 (-5.10, -49.2), (-4.95, -50.8), (-4.80, -49.4), (-4.65, -50.6), (-4.50, -49.0), (-4.35, -50.4),
                 (-4.20, -48.8), (-4.05, -50.2), (-3.90, -48.6), (-3.75, -50.0), (-3.60, -48.2), (-3.45, -49.2),
                 (-3.30, -47.4), (-3.15, -48.0), (-3.00, -45.8), (-2.85, -46.6), (-2.70, -44.2), (-2.55, -43.0),
                 (-2.65, -41.2), (-2.80, -42.2), (-2.95, -40.4), (-3.10, -41.6), (-3.25, -39.6), (-3.40, -40.8),
                 (-3.55, -38.8), (-3.70, -40.2), (-3.85, -42.4), (-4.00, -43.8), (-4.15, -42.2), (-4.30, -41.0),
                 (-4.45, -42.8), (-4.60, -44.6), (-4.75, -46.2), (-4.90, -44.6), (-5.05, -42.8), (-5.20, -41.2),
                 (-5.35, -42.8), (-5.50, -44.6), (-5.65, -46.0), (-5.80, -44.4), (-5.95, -42.6), (-6.10, -41.8)]

low_right_outer = [(0.60, -19.0), (0.75, -17.5), (0.85, -18.0), (0.93, -15.3), (1.02, -15.8), (1.10, -14.0),
                   (1.20, -14.8), (1.30, -14.4), (1.42, -15.7), (1.91, -31.7), (1.80, -31.5), (1.71, -32.0),
                   (1.60, -31.2), (1.50, -31.7), (1.40, -33.0), (1.30, -32.7), (1.20, -34.0), (1.14, -33.6),
                   (1.10, -34.9), (0.93, -35.3), (0.88, -36.5), (0.81, -36.9), (0.69, -37.6), (0.55, -38.0),
                   (0.41, -39.2), (0.28, -39.8), (0.15, -40.0), (0.00, -40.8), (-0.08, -43.1), (-0.18, -43.5),
                   (-0.28, -44.1), (-0.41, -46.4), (-0.50, -47.0), (-0.61, -48.3), (-0.72, -47.0), (-0.81, -47.3),
                   (-0.73, -44.1), (-0.89, -43.1), (-0.95, -44.5), (-1.02, -45.1), (-1.14, -47.3), (-1.25, -47.8),
                   (-1.34, -48.3), (-1.50, -49.5), (-1.63, -50.6), (-1.75, -52.9), (-1.90, -53.3), (-2.03, -53.9),
                   (-2.20, -56.0), (-2.32, -57.1), (-2.52, -58.1), (-2.65, -59.5), (-2.72, -60.4), (-2.60, -61.5),
                   (-2.56, -62.0), (-2.45, -60.8), (-2.36, -61.4), (-2.32, -59.8), (-2.15, -58.1)]

low_right_inner = [(-2.15, -58.1), (-2.30, -55.0), (-2.00, -56.5), (-2.15, -52.5), (-1.85, -53.5), (-2.00, -49.5),
                   (-1.70, -50.5), (-1.85, -46.5), (-1.55, -47.5), (-1.70, -43.5), (-1.40, -44.5), (-1.55, -40.5),
                   (-1.25, -41.5), (-1.40, -37.5), (-1.10, -38.5), (-1.25, -34.5), (-0.95, -35.5), (-1.05, -31.5),
                   (-0.75, -32.5), (-0.90, -28.5), (-0.55, -29.5), (-0.70, -26.0), (-0.35, -27.0), (-0.45, -23.5),
                   (-0.15, -24.5), (-0.20, -21.0), (0.10, -22.0), (0.05, -19.0), (0.35, -20.0), (0.30, -17.5),
                   (0.60, -19.0), (0.70, -21.0), (0.40, -24.5), (0.50, -22.0), (0.20, -26.5), (0.30, -23.5),
                   (-0.05, -28.5), (0.05, -25.5), (-0.30, -30.5), (-0.20, -27.5), (-0.55, -33.0), (-0.45, -29.5),
                   (-0.80, -35.0), (-0.70, -31.5), (-1.00, -36.5), (-1.20, -33.0), (-1.35, -35.5), (-1.50, -31.0),
                   (-1.60, -28.5), (-1.75, -26.5), (-1.85, -28.0), (-1.95, -31.5), (-2.00, -36.0), (-2.10, -38.5),
                   (-1.95, -41.0), (-2.10, -44.0), (-2.20, -47.5), (-2.40, -50.5), (-2.50, -53.5), (-2.70, -56.5),
                   (-2.85, -58.0), (-2.75, -60.0)]

low_right_walk = [(-2.58, -56.0), (-2.03, -54.8), (-2.23, -53.6), (-1.68, -52.4), (-2.23, -51.2), (-1.79, -50.0),
                  (-1.94, -48.8), (-1.34, -47.6), (-1.89, -46.4), (-1.30, -45.2), (-1.45, -44.0), (-0.95, -42.8),
                  (-1.40, -41.6), (-0.96, -40.4), (-1.31, -39.2), (-0.61, -38.0), (-0.91, -36.8), (-0.32, -35.6),
                  (-0.87, -34.4), (-0.37, -33.2), (-0.57, -32.0), (0.02, -30.8), (-0.53, -29.6), (0.07, -28.4),
                  (-0.08, -27.2), (0.41, -26.0), (-0.04, -24.8), (0.41, -23.6), (0.21, -22.4), (0.70, -21.2),
                  (0.50, -20.0), (0.65, -20.6), (0.16, -21.8), (0.61, -23.0), (0.16, -24.2), (0.46, -25.4),
                  (-0.28, -26.6), (0.12, -27.8), (-0.33, -29.0), (0.12, -30.2), (-0.63, -31.4), (-0.32, -32.6),
                  (-0.67, -33.8), (-0.32, -35.0), (-1.07, -36.2), (-0.61, -37.4), (-1.01, -38.6), (-0.71, -39.8),
                  (-1.41, -41.0), (-1.15, -42.2), (-1.55, -43.4), (-1.10, -44.6), (-1.65, -45.8), (-1.39, -47.0),
                  (-1.99, -48.2), (-1.69, -49.4), (-2.09, -50.6), (-1.73, -51.8), (-2.23, -53.0), (-2.08, -54.2),
                  (-2.58, -55.4)]

low_right_sweeps = [(-1.25, -38.6), (-0.95, -39.4), (-0.70, -38.0), (-0.95, -36.6), (-1.15, -35.2), (-0.90, -34.0),
                    (-0.60, -34.8), (-0.35, -33.4), (-0.60, -31.8), (-0.85, -30.6), (-0.60, -29.4), (-0.30, -30.2),
                    (-0.05, -29.0), (-0.30, -27.6), (-0.55, -26.2), (-0.30, -25.0), (0.00, -25.8), (0.25, -24.4),
                    (0.00, -23.0), (-0.25, -21.6), (0.00, -20.6), (0.30, -21.2), (0.55, -19.8), (0.35, -18.6),
                    (0.60, -17.8), (0.80, -19.2), (0.65, -20.8), (0.40, -22.2), (0.60, -23.6), (0.35, -25.2),
                    (0.10, -26.4), (0.30, -27.6), (0.10, -29.0), (-0.15, -30.4), (0.05, -31.6), (-0.20, -33.0),
                    (-0.45, -34.4), (-0.25, -35.6), (-0.50, -37.0), (-0.75, -38.4), (-0.55, -39.6), (-0.80, -41.0),
                    (-1.05, -42.4), (-0.85, -43.6), (-1.10, -45.0)]

low_right_wide = [(-2.34, -50.0), (-1.46, -49.0), (-1.87, -48.0), (-1.04, -47.0), (-2.11, -46.0), (-1.33, -45.0),
                  (-0.90, -44.0), (-1.67, -43.0), (-0.59, -42.0), (-1.26, -41.0), (-1.57, -40.0), (-0.59, -39.0),
                  (-0.81, -38.0), (-1.23, -37.0), (-0.20, -36.0), (-0.92, -35.0), (-0.34, -34.0), (-1.06, -33.0),
                  (0.03, -32.0), (-0.34, -31.0), (0.34, -30.0), (-0.63, -29.0), (0.20, -28.0), (-0.32, -27.0),
                  (0.56, -26.0), (0.00, -25.0), (0.75, -24.0), (-0.19, -23.0), (0.59, -22.0), (0.12, -21.0),
                  (0.85, -20.0), (0.43, -19.0), (0.95, -18.0)]

strands = [long_strand, top_strand, upper_walk, upper_walk2, upper_right_walk, jump_strand,
           mid_band, mid_walk, mid_walk2, mid_walk3, mid_upper, right_arm, right_arm_walk,
           low_left, low_left_walk, low_left_walk2, low_left_sweeps, low_mid, low_mid_walk, low_mid_walk2,
           low_right_outer, low_right_inner, low_right_walk, low_right_sweeps, low_right_wide]

fig = plt.figure(figsize=(6.69, 5.88), dpi=100)
ax = fig.add_axes([144 / 669, 78 / 588, 492 / 669, 490 / 588])

for pts in strands:
    xs, ys = zip(*pts)
    ax.plot(xs, ys, color='black', lw=1.2)

ax.set_xlim(-10, 10)
ax.set_ylim(-80, 80)

ax.xaxis.set_major_locator(MultipleLocator(5))
ax.xaxis.set_minor_locator(MultipleLocator(2.5))
ax.yaxis.set_major_locator(MultipleLocator(40))
ax.yaxis.set_minor_locator(MultipleLocator(20))
ax.xaxis.set_major_formatter(FormatStrFormatter('%.2f'))
ax.yaxis.set_major_formatter(FormatStrFormatter('%.2f'))

for side in ('top', 'right'):
    ax.spines[side].set_visible(False)
ax.spines['left'].set_color('#7a7a7a')
ax.spines['bottom'].set_color('black')
ax.spines['left'].set_linewidth(1.0)
ax.spines['bottom'].set_linewidth(1.0)

ax.tick_params(axis='both', which='major', direction='out', length=11.5, width=0.8, labelsize=15)
ax.tick_params(axis='both', which='minor', direction='out', length=6, width=0.8)
ax.tick_params(axis='y', which='both', color='#7a7a7a', pad=7)
ax.tick_params(axis='x', which='both', color='black', pad=6)

ax.set_xlabel('dP (mbar)', fontsize=15.5)
ax.set_ylabel('Y (micron)', fontsize=15.5)
ax.xaxis.set_label_coords(0.5, -0.096)
ax.yaxis.set_label_coords(-0.226, 0.5)

title_lines = ['Vertical displacement', 'vs atmospheric pressure', '(tides removed from Y)']
for i, line in enumerate(title_lines):
    fig.text(177 / 669, (588 - 65 - 27.5 * i) / 588, line, color='#ff00ff',
             fontsize=17.5, ha='left', va='baseline')

fig.savefig('out.png', dpi=100)
